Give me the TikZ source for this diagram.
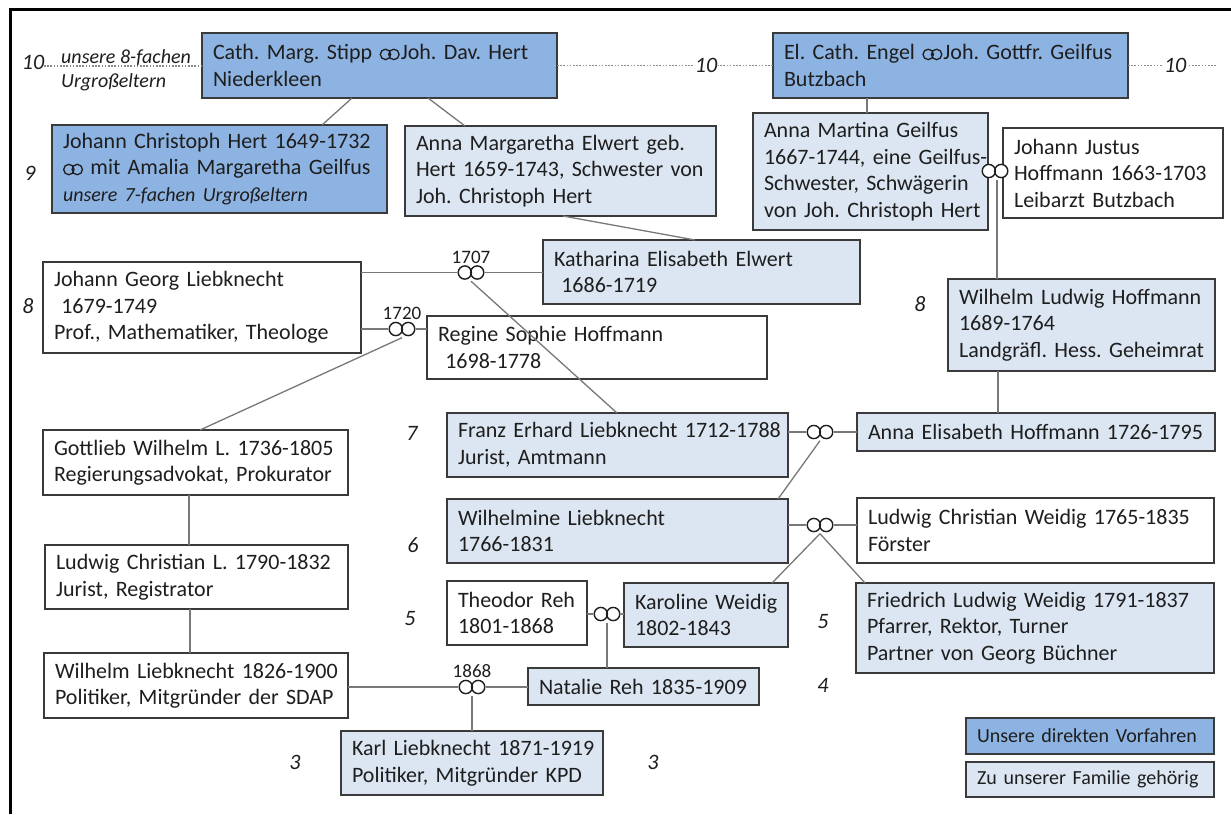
\documentclass[tikz,border=0pt]{standalone}
\usepackage{fontspec}
\setmainfont{Carlito}
\definecolor{dk}{HTML}{8DB3E2}
\definecolor{lt}{HTML}{DCE6F2}
\definecolor{bd}{HTML}{3A3A3A}
\definecolor{cn}{HTML}{787878}
\definecolor{tx}{HTML}{1E1E1E}
\definecolor{dt}{HTML}{8A8A8A}
\newcommand\zl[1]{\mbox{#1}}
\newcommand\marr{\begin{pgfpicture}\pgfsetlinewidth{1.3pt}\pgfsetstrokecolor{tx}\pgfpathcircle{\pgfpoint{5.6pt}{5.4pt}}{5.2pt}\pgfpathcircle{\pgfpoint{14pt}{5.4pt}}{5.2pt}\pgfusepath{stroke}\pgfsetbaseline{0pt}\end{pgfpicture}}
\tikzset{
  pb/.style={draw=bd, line width=1.6pt, text=tx, inner xsep=11pt, inner ysep=0pt, outer sep=0pt, align=left, font=\fontsize{22}{26.5}\selectfont\frenchspacing},
  dkb/.style={pb, fill=dk},
  ltb/.style={pb, fill=lt},
  wtb/.style={pb, fill=white},
  sz/.style n args={3}{minimum width=#1, minimum height=#2, text width=#3},
  cn/.style={draw=cn, line width=1.3pt},
  dotln/.style={draw=dt, line width=1.1pt, dash pattern=on 1.6pt off 1.6pt},
  gen/.style={font=\fontsize{22}{26}\selectfont\itshape, text=tx, inner sep=1pt},
  yr/.style={font=\fontsize{19}{22}\selectfont, text=tx, inner sep=0pt},
  mar/.style={inner sep=0pt, minimum width=28pt, minimum height=17pt,
    path picture={\draw[draw=tx, fill=white, line width=1.4pt]
      ([xshift=-6.2pt]path picture bounding box.center) circle (6.6pt)
      ([xshift=6.2pt]path picture bounding box.center) circle (6.6pt);}},
}
\begin{document}
\begin{tikzpicture}[x=1pt, y=-1pt]
\useasboundingbox (0,0) rectangle (1231,814);
\fill[white] (0,0) rectangle (1231,814);
\draw[line width=3pt, black] (10,814) -- (10,9) -- (1231,9);

% generation 10
\node[dkb, sz={355pt}{65pt}{333pt}] (stipp) at (379.5,65.5)
  {\zl{Cath. Marg. Stipp \marr\kern1pt Joh. Dav. Hert}\\\zl{Niederkleen}};
\node[dkb, sz={355pt}{65pt}{333pt}] (elcath) at (950.5,65.5)
  {\zl{El. Cath. Engel \marr\kern1pt Joh. Gottfr. Geilfus}\\\zl{Butzbach}};

% generation 9
\node[dkb, sz={335pt}{88pt}{313pt}] (jch) at (219.5,169)
  {\zl{Johann Christoph Hert 1649-1732}\\\zl{\marr\ mit Amalia Margaretha Geilfus}\\\zl{\fontsize{20}{24}\selectfont\itshape unsere 7-fachen Urgroßeltern}};
\node[ltb, sz={311pt}{90pt}{289pt}] (ame) at (560.5,171)
  {\zl{Anna Margaretha Elwert geb.}\\\zl{Hert 1659-1743, Schwester von}\\\zl{Joh. Christoph Hert}};
\node[ltb, sz={235pt}{117pt}{213pt}] (amg) at (870.5,171.5)
  {\zl{Anna Martina Geilfus}\\\zl{1667-1744, eine Geilfus-}\\\zl{Schwester, Schwägerin}\\\zl{von Joh. Christoph Hert}};
\node[wtb, sz={220pt}{90pt}{198pt}] (jjh) at (1113,173)
  {\zl{Johann Justus}\\\zl{Hoffmann 1663-1703}\\\zl{Leibarzt Butzbach}};

% generation 8
\node[wtb, sz={318pt}{91pt}{296pt}] (jgl) at (202,307.5)
  {\zl{Johann Georg Liebknecht}\\\zl{\ 1679-1749}\\\zl{Prof., Mathematiker, Theologe}};
\node[ltb, sz={317pt}{64pt}{295pt}] (keel) at (701.5,272)
  {\zl{Katharina Elisabeth Elwert}\\\zl{\ 1686-1719}};
\node[wtb, sz={340pt}{63pt}{318pt}] (rsh) at (597,347.5)
  {\zl{Regine Sophie Hoffmann}\\\zl{\ 1698-1778}};
\node[ltb, sz={267pt}{92pt}{245pt}] (wlh) at (1081.5,325)
  {\zl{Wilhelm Ludwig Hoffmann}\\\zl{1689-1764}\\\zl{Landgräfl. Hess. Geheimrat}};

% generation 7
\node[wtb, sz={305pt}{65pt}{283pt}] (gwl) at (195.5,462.5)
  {\zl{Gottlieb Wilhelm L. 1736-1805}\\\zl{Regierungsadvokat, Prokurator}};
\node[ltb, sz={341pt}{64pt}{319pt}] (franz) at (617.5,445)
  {\zl{Franz Erhard Liebknecht 1712-1788}\\\zl{Jurist, Amtmann}};
\node[ltb, sz={358pt}{38pt}{336pt}] (aeh) at (1036,432)
  {\zl{Anna Elisabeth Hoffmann 1726-1795}};

% generation 6
\node[ltb, sz={341pt}{64pt}{319pt}] (wil) at (617.5,531)
  {\zl{Wilhelmine Liebknecht}\\\zl{1766-1831}};
\node[wtb, sz={357pt}{65pt}{335pt}] (lcw) at (1035.5,530.5)
  {\zl{Ludwig Christian Weidig 1765-1835}\\\zl{Förster}};
\node[wtb, sz={303pt}{64pt}{281pt}] (lcl) at (196.5,577)
  {\zl{Ludwig Christian L. 1790-1832}\\\zl{Jurist, Registrator}};

% generation 5
\node[wtb, sz={140pt}{64pt}{118pt}] (tr) at (517,613)
  {\zl{Theodor Reh}\\\zl{1801-1868}};
\node[ltb, sz={164pt}{64pt}{142pt}] (kw) at (706,615)
  {\zl{Karoline Weidig}\\\zl{1802-1843}};
\node[ltb, sz={358pt}{90pt}{336pt}] (flw) at (1035,628)
  {\zl{Friedrich Ludwig Weidig 1791-1837}\\\zl{Pfarrer, Rektor, Turner}\\\zl{Partner von Georg Büchner}};

% generation 4 / 3
\node[wtb, sz={304pt}{65pt}{282pt}] (wl) at (196,685.5)
  {\zl{Wilhelm Liebknecht 1826-1900}\\\zl{Politiker, Mitgründer der SDAP}};
\node[ltb, sz={231pt}{37pt}{209pt}] (nat) at (643.5,686.5)
  {\zl{Natalie Reh 1835-1909}};
\node[ltb, sz={262pt}{64pt}{240pt}] (karl) at (472,763)
  {\zl{Karl Liebknecht 1871-1919}\\\zl{Politiker, Mitgründer KPD}};

% legend
\node[dkb, sz={248pt}{36pt}{226pt}, font=\fontsize{20}{24}\selectfont, inner xsep=11pt] (leg1) at (1090,736)
  {\zl{Unsere direkten Vorfahren}};
\node[ltb, sz={248pt}{35pt}{226pt}, font=\fontsize{20}{24}\selectfont, inner xsep=11pt] (leg2) at (1090,779.5)
  {\zl{Zu unserer Familie gehörig}};

% marriage symbols
\node[mar, label={[yr]above:1707}] (m1707) at (471,272.5) {};
\node[mar, label={[yr]above:1720}] (m1720) at (402,329) {};
\node[mar] (mAJ) at (995,171) {};
\node[mar] (mFA) at (820,432) {};
\node[mar] (mWL) at (820,525) {};
\node[mar] (mTK) at (607,614) {};
\node[mar, label={[yr]above:1868}] (m1868) at (472,687) {};

% dotted generation lines
\coordinate (d0) at (44,66);
\coordinate (d1) at (1217,66);
\draw[dotln] (d0) -- (d0 -| stipp.west);
\node[gen] (g10a) at (33,62) {10};
\node[gen, font=\fontsize{20}{24}\selectfont\itshape, anchor=west, align=left] (u8) at (60,70) {unsere 8-fachen\\Urgroßeltern};
\draw[dotln] (stipp.east) -- node[gen, pos=0.69, fill=white] (g10b) {10} (elcath.west);
\draw[dotln] (elcath.east) -- node[gen, pos=0.53, fill=white] (g10c) {10} (elcath.east -| d1);

% connectors
\draw[cn] ([xshift=150pt]stipp.south west) -- ([xshift=270pt]jch.north west);
\draw[cn] ([xshift=226pt]stipp.south west) -- ([xshift=60pt]ame.north west);
\draw[cn] ([xshift=158pt]ame.south west) -- ([xshift=152pt]keel.north west);
\draw[cn] ([xshift=94pt]elcath.south west) -- ([xshift=94pt]elcath.south west |- amg.north);
\draw[cn] ([xshift=2pt]mAJ.south) -- ([xshift=2pt]mAJ.south |- wlh.north);
\draw[cn] ([xshift=50pt]wlh.south west) -- ([xshift=50pt]wlh.south west |- aeh.north);
\draw[cn] (m1707 -| jgl.east) -- (m1707) -- (m1707 -| keel.west);
\draw[cn] (m1707.south) -- ([xshift=170pt]franz.north west);
\draw[cn] (m1720 -| jgl.east) -- (m1720) -- (m1720 -| rsh.west);
\draw[cn] (m1720.south) -- ([xshift=157pt]gwl.north west);
\draw[cn] ([xshift=146pt]gwl.south west) -- ([xshift=146pt]gwl.south west |- lcl.north);
\draw[cn] ([xshift=145pt]lcl.south west) -- ([xshift=145pt]lcl.south west |- wl.north);
\draw[cn] (mFA -| franz.east) -- (mFA) -- (mFA -| aeh.west);
\draw[cn] (mFA.south) -- ([xshift=331pt]wil.north west);
\draw[cn] (mWL -| wil.east) -- (mWL) -- (mWL -| lcw.west);
\draw[cn] (mWL.south) -- ([xshift=-16pt]kw.north east);
\draw[cn] (mWL.south) -- ([xshift=9pt]flw.north west);
\draw[cn] (mTK -| tr.east) -- (mTK) -- (mTK -| kw.west);
\draw[cn] (mTK.south) -- (mTK.south |- nat.north);
\draw[cn] (m1868 -| wl.east) -- (m1868) -- (m1868 -| nat.west);
\draw[cn] (m1868.south) -- (m1868.south |- karl.north);

% generation numbers
\node[gen] (g9) at (30,173) {9};
\node[gen] (g8a) at (28,306) {8};
\node[gen] (g8b) at (920,304) {8};
\node[gen] (g7) at (412,433) {7};
\node[gen] (g6) at (413,545) {6};
\node[gen] (g5a) at (410,619) {5};
\node[gen] (g5b) at (823,622) {5};
\node[gen] (g4) at (823,685) {4};
\node[gen] (g3a) at (295,762) {3};
\node[gen] (g3b) at (653,762) {3};
\end{tikzpicture}
\end{document}
